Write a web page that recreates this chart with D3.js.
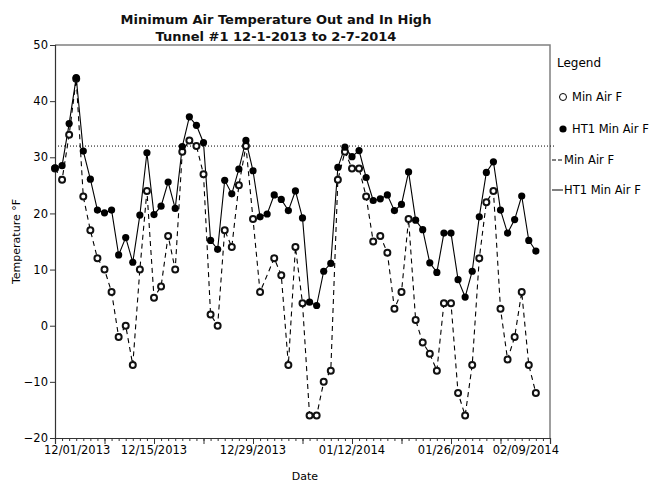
<!DOCTYPE html>
<html>
<head>
<meta charset="utf-8">
<script src="https://cdn.jsdelivr.net/npm/d3@7/dist/d3.min.js"></script>
<style>
  html, body { margin: 0; padding: 0; background: #fff; }
  svg { display: block; font-family: "DejaVu Sans", sans-serif; }
</style>
</head>
<body>
<svg id="chart" width="653" height="482"></svg>
<script>
// ---- data ----
const startDate = "2013-12-01";
const endDate = "2014-02-07";
const axisEndDate = "2014-02-09";
const minAirF = [28, 26, 34, 44, 23, 17, 12, 10, 6, -2, 0, -7, 10, 24, 5, 7, 16, 10, 31, 33,
  32, 27, 2, 0, 17, 14, 25, 32, 19, 6, null, 12, 9, -7, 14, 4, -16, -16, -10, -8,
  26, 31, 28, 28, 23, 15, 16, 13, 3, 6, 19, 1, -3, -5, -8, 4, 4, -12, -16, -7,
  12, 22, 24, 3, -6, -2, 6, -7, -12];
const ht1MinAirF = [28.1, 28.5, 36.0, 44.2, 31.1, 26.1, 20.6, 20.1, 20.6, 12.6, 15.7, 11.3, 19.7, 30.8, 19.8, 21.3, 25.6, 20.9, 31.9, 37.2,
  35.7, 32.6, 15.2, 13.6, 25.9, 23.5, 27.9, 33.0, 27.6, 19.4, 19.9, 23.3, 22.5, 20.5, 24.0, 19.2, 4.2, 3.6, 9.7, 11.1,
  28.2, 31.8, 30.1, 31.2, 26.4, 22.3, 22.6, 23.3, 20.5, 21.6, 27.4, 18.8, 17.1, 11.2, 9.5, 16.5, 16.5, 8.2, 5.1, 9.7,
  19.4, 27.3, 29.2, 20.6, 16.5, 18.9, 23.1, 15.2, 13.3];
const xTickLabels = ["12/01/2013", "12/15/2013", "12/29/2013", "01/12/2014", "01/26/2014", "02/09/2014"];
const yTicks = [-20, -10, 0, 10, 20, 30, 40, 50];
const refLineValue = 32;
const titleLines = ["Minimum Air Temperature Out and In High", "Tunnel #1 12-1-2013 to 2-7-2014"];
const legendItems = ["Min Air F", "HT1 Min Air F", "Min Air F", "HT1 Min Air F"];

// ---- setup ----
const svg = d3.select("#chart");
const plot = { left: 55, right: 550, top: 45, bottom: 438 };
const parse = d3.utcParse("%Y-%m-%d");
const parseLbl = d3.utcParse("%m/%d/%Y");
const dates = d3.utcDay.range(parse(startDate), d3.utcDay.offset(parse(endDate), 1));

const x = d3.scaleUtc().domain([parse(startDate), parse(axisEndDate)]).range([plot.left, plot.right]);
const y = d3.scaleLinear().domain([-20, 50]).range([plot.bottom, plot.top]);

const rowsMin = dates.map((d, i) => ({ d, v: minAirF[i] })).filter(r => r.v != null);
const rowsHT = dates.map((d, i) => ({ d, v: ht1MinAirF[i] })).filter(r => r.v != null);

// frame (top & right, grey)
svg.append("path")
  .attr("d", `M${plot.left},${plot.top}H${plot.right}V${plot.bottom}`)
  .attr("fill", "none").attr("stroke", "#808080").attr("stroke-width", 1.5);

// reference dotted line
svg.append("line")
  .attr("x1", plot.left).attr("x2", plot.right + 4)
  .attr("y1", y(refLineValue)).attr("y2", y(refLineValue))
  .attr("stroke", "#000").attr("stroke-width", 1).attr("stroke-dasharray", "1,2");

// y axis
const yAxis = d3.axisLeft(y).tickValues(yTicks).tickSize(5).tickPadding(2).tickFormat(d3.format("d"));
const gy = svg.append("g").attr("transform", `translate(${plot.left},0)`).call(yAxis);
gy.select(".domain").attr("stroke", "#333").attr("stroke-width", 1.2);
gy.selectAll(".tick line").attr("stroke", "#333");
gy.selectAll("text").attr("font-size", 11.5).attr("fill", "#000")
  .attr("font-family", "DejaVu Sans, sans-serif");

// x axis minor (daily) ticks
const gxMinor = svg.append("g").attr("transform", `translate(0,${plot.bottom})`)
  .call(d3.axisBottom(x).tickValues(d3.utcDay.range(x.domain()[0], d3.utcDay.offset(x.domain()[1], 1))).tickSize(3).tickFormat(""));
gxMinor.select(".domain").remove();
gxMinor.selectAll(".tick line").attr("stroke", "#333");

// x axis major (weekly) ticks
const weekly = d3.utcDay.range(x.domain()[0], d3.utcDay.offset(x.domain()[1], 1), 7);
const gx = svg.append("g").attr("transform", `translate(0,${plot.bottom})`)
  .call(d3.axisBottom(x).tickValues(weekly).tickSize(6).tickFormat(""));
gx.select(".domain").attr("stroke", "#333").attr("stroke-width", 1.2);
gx.selectAll(".tick line").attr("stroke", "#333");

// x tick labels (clamped inside)
const labelG = svg.append("g");
xTickLabels.forEach(lbl => {
  const t = labelG.append("text").text(lbl)
    .attr("font-size", 11.5).attr("text-anchor", "middle").attr("y", 454).attr("fill", "#000");
  const w = t.node().getComputedTextLength();
  let cx = x(parseLbl(lbl));
  cx = Math.max(44 + w / 2, Math.min(559 - w / 2, cx));
  t.attr("x", cx);
});

// axis titles
svg.append("text").text("Date").attr("x", 305).attr("y", 480)
  .attr("text-anchor", "middle").attr("font-size", 11);
svg.append("text").text("Temperature °F")
  .attr("transform", `translate(20,${(plot.top + plot.bottom) / 2}) rotate(-90)`)
  .attr("text-anchor", "middle").attr("font-size", 11);

// title
titleLines.forEach((t, i) => {
  svg.append("text").text(t).attr("x", 276).attr("y", 24 + i * 17)
    .attr("text-anchor", "middle").attr("font-size", 13).attr("font-weight", "bold")
    .attr("fill", "#111");
});

// lines
const line = d3.line().x(r => x(r.d)).y(r => y(r.v));
svg.append("path").datum(rowsMin).attr("d", line)
  .attr("fill", "none").attr("stroke", "#000").attr("stroke-width", 1.1).attr("stroke-dasharray", "5,4");
svg.append("path").datum(rowsHT).attr("d", line)
  .attr("fill", "none").attr("stroke", "#000").attr("stroke-width", 1.1);

// markers
svg.append("g").selectAll("circle").data(rowsMin).join("circle")
  .attr("cx", r => x(r.d)).attr("cy", r => y(r.v)).attr("r", 3)
  .attr("fill", "#fff").attr("stroke", "#111").attr("stroke-width", 2);
svg.append("g").selectAll("circle").data(rowsHT).join("circle")
  .attr("cx", r => x(r.d)).attr("cy", r => y(r.v)).attr("r", 3.6)
  .attr("fill", "#000");

// legend
const lg = svg.append("g");
lg.append("text").text("Legend").attr("x", 557).attr("y", 67).attr("font-size", 12);
const ly = [97, 129, 160, 190];
lg.append("circle").attr("cx", 563).attr("cy", ly[0]).attr("r", 3.5)
  .attr("fill", "#fff").attr("stroke", "#000").attr("stroke-width", 1);
lg.append("circle").attr("cx", 563).attr("cy", ly[1]).attr("r", 3.6).attr("fill", "#000");
lg.append("line").attr("x1", 552).attr("x2", 562).attr("y1", ly[2]).attr("y2", ly[2])
  .attr("stroke", "#000").attr("stroke-width", 1).attr("stroke-dasharray", "4,2");
lg.append("line").attr("x1", 552).attr("x2", 563).attr("y1", ly[3]).attr("y2", ly[3])
  .attr("stroke", "#000").attr("stroke-width", 1);
legendItems.forEach((t, i) => {
  lg.append("text").text(t).attr("x", i < 2 ? 572 : 564).attr("y", ly[i] + 4).attr("font-size", 11.5);
});
</script>
</body>
</html>
